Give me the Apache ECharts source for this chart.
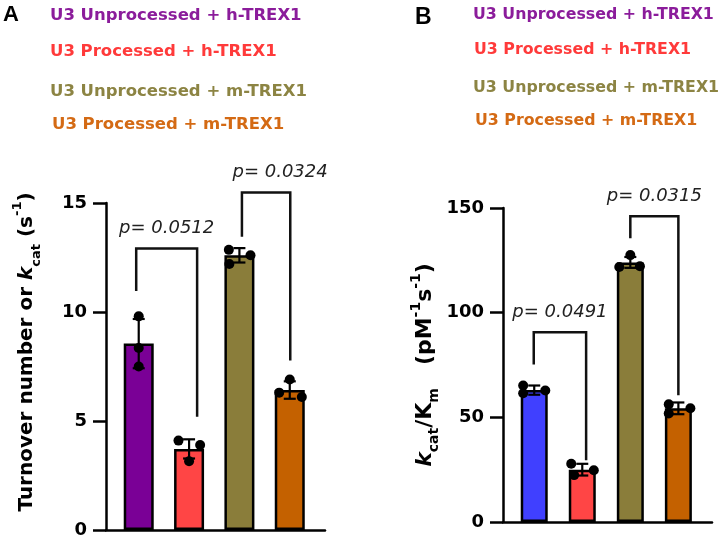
<!DOCTYPE html>
<html><head><meta charset="utf-8">
<script src="https://cdn.jsdelivr.net/npm/echarts@6/dist/echarts.min.js"></script>
<style>html,body{margin:0;padding:0;background:#fff}#c{width:720px;height:542px}</style>
</head><body><div id="c"></div>
<script>
// ---------- data ----------
const categories = ['U3 Unprocessed + h-TREX1', 'U3 Processed + h-TREX1', 'U3 Unprocessed + m-TREX1', 'U3 Processed + m-TREX1'];
// Panel A: turnover number kcat (s^-1)
const kcatMean = [8.55, 3.72, 12.6, 6.42];
const kcatSD = [1.13, 0.44, 0.33, 0.4];
const kcatPoints = [[9.8, 8.35, 7.5], [4.1, 3.9, 3.15], [12.85, 12.2, 12.6], [6.9, 6.3, 6.1]];
// Panel B: kcat/Km (pM^-1 s^-1)
const effMean = [63, 25, 124, 54.3];
const effSD = [2.2, 2.8, 2.6, 2.8];
const effPoints = [[65.2, 61.5, 62.8], [27.8, 24.7, 22.4], [127.5, 121.8, 122.2], [56.2, 51.8, 54.3]];
// significance brackets: [fromX, toX, topY, fromLegY, toLegY]
const bracketsA = [[-0.05, 1.16, 12.91, 10.96, 5.2], [2.05, 3.01, 15.48, 13.45, 7.77]];
const pLabelsA = ['p= 0.0512', 'p= 0.0324'];
const bracketsB = [[-0.01, 1.08, 90.65, 75.2, 29.5], [2.0, 3.0, 146.0, 135.6, 60.6]];
const pLabelsB = ['p= 0.0491', 'p= 0.0315'];
const ticksA = {min: 0, max: 15, interval: 5};
const ticksB = {min: 0, max: 150, interval: 50};

// ---------- styling ----------
const FONT = 'DejaVu Sans';
const barColorsA = ['#7A0096', '#FF4545', '#8A7D3A', '#C46100'];
const barColorsB = ['#4040FF', '#FF4545', '#8A7D3A', '#C46100'];
const legendColors = ['#8B1C9B', '#FF3A3A', '#8C8443', '#D46A14'];
const jitterA = [[0, 0, 0], [-0.21, 0.22, 0], [-0.21, -0.2, 0.22], [0, -0.21, 0.24]];
const jitterB = [[-0.23, -0.23, 0.23], [-0.23, 0.24, -0.17], [0, -0.23, 0.2], [-0.2, -0.2, 0.25]];
const pLabelDxA = [0, 14];
const pLabelDxB = [0, 0];

const chart = echarts.init(document.getElementById('c'), null, {renderer: 'canvas'});

function barSeries(means, colors, idx, width) {
  return {
    type: 'bar', xAxisIndex: idx, yAxisIndex: idx, barWidth: width, z: 2,
    data: means.map((v, i) => ({value: [i, v], itemStyle: {color: colors[i]}})),
    itemStyle: {borderColor: '#000', borderWidth: 2.5}, silent: true
  };
}
function errSeries(means, sds, idx) {
  return {
    type: 'custom', xAxisIndex: idx, yAxisIndex: idx, z: 3, clip: false, silent: true,
    data: means.map((m, i) => [i, m, sds[i]]),
    renderItem: function (params, api) {
      const x = api.value(0), m = api.value(1), s = api.value(2);
      const t = api.coord([x, m + s]), b = api.coord([x, m - s]);
      const st = {stroke: '#000', lineWidth: 2.2};
      return {type: 'group', children: [
        {type: 'line', shape: {x1: t[0], y1: t[1], x2: b[0], y2: b[1]}, style: st},
        {type: 'line', shape: {x1: t[0] - 6, y1: t[1], x2: t[0] + 6, y2: t[1]}, style: st},
        {type: 'line', shape: {x1: b[0] - 6, y1: b[1], x2: b[0] + 6, y2: b[1]}, style: st}
      ]};
    }
  };
}
function pointSeries(points, jitter, idx) {
  const d = [];
  points.forEach((arr, i) => arr.forEach((v, j) => d.push([i + jitter[i][j], v])));
  return {type: 'scatter', xAxisIndex: idx, yAxisIndex: idx, z: 4, symbolSize: 10, silent: true,
    itemStyle: {color: '#000', opacity: 1}, data: d};
}
function bracketSeries(brackets, labels, dxs, idx) {
  return {
    type: 'custom', xAxisIndex: idx, yAxisIndex: idx, z: 5, clip: false, silent: true,
    data: brackets,
    renderItem: function (params, api) {
      const x1 = api.value(0), x2 = api.value(1), top = api.value(2), y1 = api.value(3), y2 = api.value(4);
      const a = api.coord([x1, y1]), b = api.coord([x1, top]), c = api.coord([x2, top]), d = api.coord([x2, y2]);
      return {type: 'group', children: [
        {type: 'polyline', shape: {points: [a, b, c, d]}, style: {stroke: '#111', lineWidth: 2.5, fill: null}},
        {type: 'text', x: (b[0] + c[0]) / 2 + dxs[params.dataIndex], y: b[1] - 20,
          style: {text: labels[params.dataIndex], fontFamily: FONT, fontStyle: 'italic', fontSize: 18,
            fill: '#222', align: 'center', verticalAlign: 'middle'}}
      ]};
    }
  };
}
function xAxisOpt(idx) {
  return {gridIndex: idx, type: 'value', min: -0.65, max: 3.7, position: 'bottom',
    axisLine: {show: true, onZero: false, lineStyle: {color: '#000', width: 2.5}},
    axisTick: {show: false}, axisLabel: {show: false}, splitLine: {show: false}};
}
function yAxisOpt(idx, t) {
  return {gridIndex: idx, type: 'value', min: t.min, max: t.max, interval: t.interval, position: 'left',
    axisLine: {show: true, onZero: false, lineStyle: {color: '#000', width: 2.5}},
    axisTick: {show: true, length: 13, lineStyle: {color: '#000', width: 2.5}},
    axisLabel: {fontSize: 18, fontWeight: 'bold', fontFamily: FONT, color: '#000', margin: 19},
    splitLine: {show: false}};
}

const richBase = (size) => ({
  a: {fontSize: size, fontWeight: 'bold', fontFamily: FONT, fill: '#000', lineHeight: 32, verticalAlign: 'middle'},
  k: {fontSize: size, fontWeight: 'bold', fontStyle: 'italic', fontFamily: FONT, fill: '#000', lineHeight: 32, verticalAlign: 'middle'},
  sub: {fontSize: Math.round(size * 0.65), fontWeight: 'bold', fontFamily: FONT, fill: '#000', lineHeight: 32, verticalAlign: 'bottom'},
  sup: {fontSize: Math.round(size * 0.65), fontWeight: 'bold', fontFamily: FONT, fill: '#000', lineHeight: 32, verticalAlign: 'top'}
});

const legendA = [[50, 15.5], [50, 52], [50, 91.5], [52, 124.5]];
const legendB = [[473, 15], [474, 49.5], [473, 88], [475, 120.5]];
const graphics = [];
categories.forEach((c, i) => {
  graphics.push({type: 'text', x: legendA[i][0], y: legendA[i][1], style: {text: c, fontFamily: FONT, fontWeight: 'bold', fontSize: 16.5, fill: legendColors[i], align: 'left', verticalAlign: 'middle'}});
  graphics.push({type: 'text', x: legendB[i][0], y: legendB[i][1], style: {text: c, fontFamily: FONT, fontWeight: 'bold', fontSize: 15.8, fill: legendColors[i], align: 'left', verticalAlign: 'middle'}});
});
graphics.push({type: 'text', x: 3, y: 15, style: {text: 'A', fontFamily: 'Liberation Sans', fontWeight: 'bold', fontSize: 22, fill: '#000', align: 'left', verticalAlign: 'middle'}});
graphics.push({type: 'text', x: 415, y: 18, style: {text: 'B', fontFamily: 'Liberation Sans', fontWeight: 'bold', fontSize: 23, fill: '#000', align: 'left', verticalAlign: 'middle'}});
graphics.push({type: 'text', x: 27, y: 352, rotation: Math.PI / 2,
  style: {text: '{a|Turnover number or }{k|k}{sub|cat}{a| (s}{sup|-1}{a|)}', rich: richBase(20), align: 'center', verticalAlign: 'middle'}});
graphics.push({type: 'text', x: 425, y: 365, rotation: Math.PI / 2,
  style: {text: '{k|k}{sub|cat}{a|/K}{sub|m}{a|   (pM}{sup|-1}{a|s}{sup|-1}{a|)}', rich: richBase(22), align: 'center', verticalAlign: 'middle'}});

chart.setOption({
  animation: false,
  backgroundColor: '#fff',
  grid: [
    {left: 106, top: 203, width: 219, height: 327},
    {left: 503, top: 208, width: 209, height: 314}
  ],
  xAxis: [xAxisOpt(0), xAxisOpt(1)],
  yAxis: [yAxisOpt(0, ticksA), yAxisOpt(1, ticksB)],
  series: [
    barSeries(kcatMean, barColorsA, 0, 30),
    errSeries(kcatMean, kcatSD, 0),
    pointSeries(kcatPoints, jitterA, 0),
    bracketSeries(bracketsA, pLabelsA, pLabelDxA, 0),
    barSeries(effMean, barColorsB, 1, 27),
    errSeries(effMean, effSD, 1),
    pointSeries(effPoints, jitterB, 1),
    bracketSeries(bracketsB, pLabelsB, pLabelDxB, 1)
  ],
  graphic: graphics
});
</script></body></html>
